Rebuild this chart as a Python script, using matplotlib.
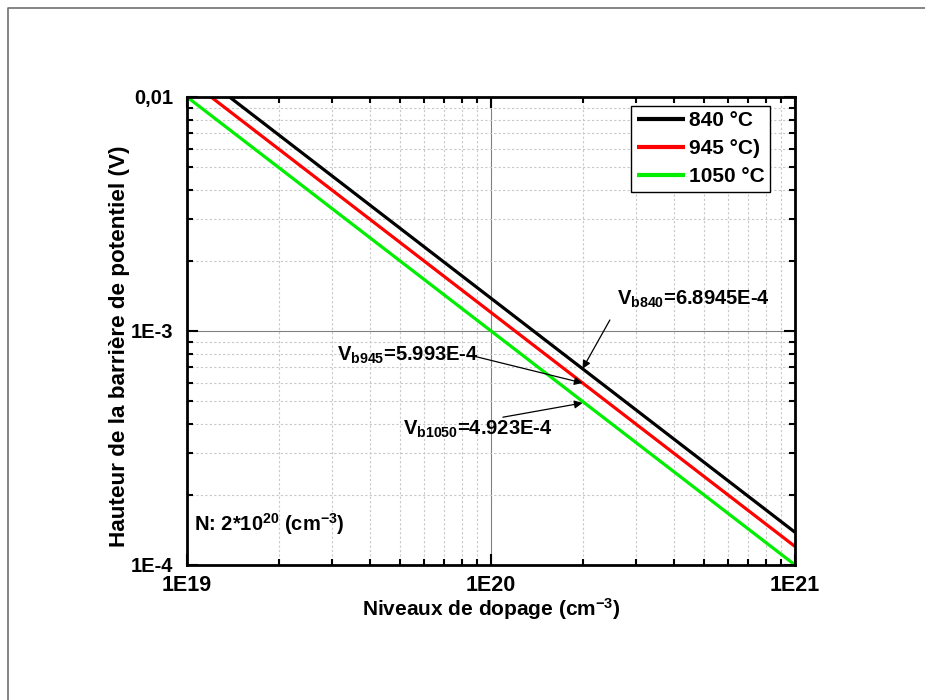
import matplotlib
matplotlib.use("Agg")
import matplotlib.pyplot as plt
from matplotlib.lines import Line2D
from matplotlib.ticker import LogLocator, NullFormatter

plt.rcParams['font.family'] = ['Liberation Sans', 'DejaVu Sans']
plt.rcParams['font.weight'] = 'bold'
plt.rcParams['mathtext.fontset'] = 'custom'
plt.rcParams['mathtext.rm'] = 'Liberation Sans:bold'
plt.rcParams['mathtext.bf'] = 'Liberation Sans:bold'
plt.rcParams['mathtext.it'] = 'Liberation Sans:bold'
plt.rcParams['mathtext.default'] = 'bf'

# end points of each line
n_840 = [1.379e19, 1e21]
v_840 = [1e-2, 1.379e-4]
n_945 = [1.199e19, 1e21]
v_945 = [1e-2, 1.199e-4]
n_1050 = [1e19, 1e21]
v_1050 = [1e-2, 1e-4]
labels = ['840 °C', '945 °C)', '1050 °C']
colors = ['black', '#ff0000', '#00ee00']

# marked values at N = 2e20
n_mark = 2e20
vb_840 = 6.8945e-4
vb_945 = 5.993e-4
vb_1050 = 4.923e-4

x_ticks = [1e19, 1e20, 1e21]
x_ticklabels = ['1E19', '1E20', '1E21']
y_ticks = [1e-4, 1e-3, 1e-2]
y_ticklabels = ['1E-4', '1E-3', '0,01']

fig = plt.figure(figsize=(9.25, 7.0), dpi=100)
ax = fig.add_axes([0.2022, 0.1929, 0.6573, 0.6686])

# grey frame around the picture
fig.add_artist(Line2D([0.0086, 0.0086, 1.0], [0.0, 0.9886, 0.9886],
                      transform=fig.transFigure, color='#707070', lw=1.2))

for n, v, lab, c in zip([n_840, n_945, n_1050], [v_840, v_945, v_1050], labels, colors):
    ax.plot(n, v, color=c, lw=2.3, label=lab, solid_capstyle='butt')

ax.set_xscale('log')
ax.set_yscale('log')
ax.set_xlim(1e19, 1e21)
ax.set_ylim(1e-4, 1e-2)

ax.set_xticks(x_ticks)
ax.set_xticklabels(x_ticklabels)
ax.set_yticks(y_ticks)
ax.set_yticklabels(y_ticklabels)
ax.xaxis.set_minor_locator(LogLocator(base=10, subs=range(2, 10)))
ax.yaxis.set_minor_locator(LogLocator(base=10, subs=range(2, 10)))
ax.xaxis.set_minor_formatter(NullFormatter())
ax.yaxis.set_minor_formatter(NullFormatter())

ax.tick_params(which='both', direction='in', top=True, right=True, width=1.5)
ax.tick_params(which='major', length=8)
ax.tick_params(which='minor', length=4)
ax.tick_params(axis='x', pad=7, labelsize=15.5)
ax.tick_params(axis='y', pad=10, labelsize=14.5)
for lab in ax.get_xticklabels() + ax.get_yticklabels():
    lab.set_fontweight('bold')

ax.grid(which='major', color='#808080', lw=0.8, ls='-')
ax.grid(which='minor', color='#c8c8c8', lw=0.8, ls=(0, (2, 2)))
ax.set_axisbelow(True)

for s in ax.spines.values():
    s.set_linewidth(2)

ax.set_xlabel('Niveaux de dopage (cm$^{-3}$)', fontsize=15, fontweight='bold', labelpad=0)
ax.set_ylabel('Hauteur de la barrière de potentiel (V)', fontsize=16.2, fontweight='bold')
ax.yaxis.set_label_coords(-0.094, 0.468)

leg = ax.legend(loc='upper right', bbox_to_anchor=(0.959, 0.981), borderaxespad=0,
                fancybox=False, edgecolor='black', framealpha=1, handlelength=2.3,
                handletextpad=0.2, prop={'size': 15, 'weight': 'bold'},
                borderpad=0.26, labelspacing=0.43)
leg.get_frame().set_linewidth(1.0)
for h in leg.get_lines():
    h.set_linewidth(3)

arrow = dict(arrowstyle='-|>', color='black', lw=0.9, mutation_scale=12, shrinkA=0, shrinkB=0)
ax.annotate('', xy=(n_mark, vb_840), xytext=(2.46e20, 1.114e-3), arrowprops=arrow)
ax.text(2.60e20, 1.36e-3, 'V$_{b840}$=6.8945E-4', fontsize=14.5, fontweight='bold',
        ha='left', va='center')
ax.annotate('', xy=(n_mark, vb_945), xytext=(8.73e19, 7.82e-4), arrowprops=arrow)
ax.text(3.11e19, 7.88e-4, 'V$_{b945}$=5.993E-4', fontsize=14.5, fontweight='bold',
        ha='left', va='center')
ax.annotate('', xy=(n_mark, vb_1050), xytext=(1.094e20, 4.28e-4), arrowprops=arrow)
ax.text(5.14e19, 3.78e-4, 'V$_{b1050}$=4.923E-4', fontsize=14.5, fontweight='bold',
        ha='left', va='center')

ax.text(0.012, 0.088, 'N: 2*10$^{20}$ (cm$^{-3}$)', transform=ax.transAxes,
        fontsize=14.5, fontweight='bold', ha='left', va='center')

fig.savefig('out.png', dpi=100)
